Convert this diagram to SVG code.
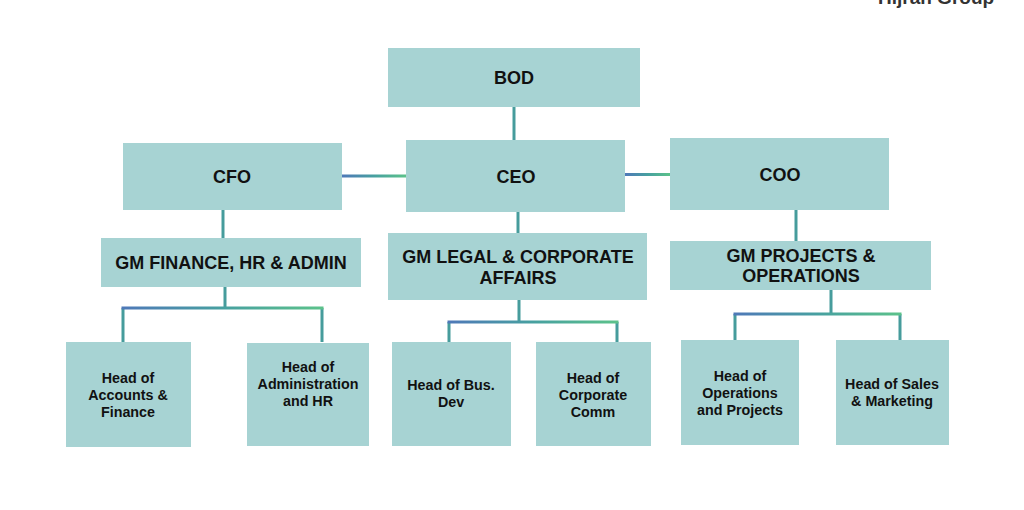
<svg xmlns="http://www.w3.org/2000/svg" width="1024" height="510" viewBox="0 0 1024 510">
<style>
.box{fill:#a7d3d3;}
.t1{font-family:"Liberation Sans",Arial,sans-serif;font-weight:bold;font-size:18px;fill:#111;text-anchor:middle;}
.t2{font-family:"Liberation Sans",Arial,sans-serif;font-weight:bold;font-size:14.3px;fill:#111;text-anchor:middle;}
.v{stroke:#469c9c;stroke-width:3;fill:none;}
.h{fill:url(#grad);}
</style>
<defs>
<linearGradient id="grad" x1="0" y1="0" x2="1" y2="0">
<stop offset="0" stop-color="#4f78b8"/>
<stop offset="0.5" stop-color="#47a0a0"/>
<stop offset="1" stop-color="#5cc28a"/>
</linearGradient>
</defs>
<rect width="1024" height="510" fill="#ffffff"/>
<text x="878" y="4" font-family="Liberation Sans,Arial,sans-serif" font-weight="bold" font-size="19" fill="#333">Hijran Group</text>

<g id="connectors">
<path class="v" d="M514,107 V140"/>
<rect class="h" x="342" y="174.5" width="64" height="3"/>
<rect class="h" x="625" y="173" width="45" height="3"/>
<path class="v" d="M223,210 V238"/>
<path class="v" d="M518,212 V233"/>
<path class="v" d="M796,210 V241"/>
<path class="v" d="M225,287 V308 M123,308 V342 M322,308 V342"/>
<rect class="h" x="121.5" y="306.5" width="202" height="3"/>
<path class="v" d="M519,300 V322 M449,322 V342 M617,322 V342"/>
<rect class="h" x="447.5" y="320.5" width="171" height="3"/>
<path class="v" d="M831,290 V314 M735,314 V341 M900,314 V341"/>
<rect class="h" x="733.5" y="312.5" width="168" height="3"/>
</g>

<g id="bod"><rect class="box" x="388" y="48" width="252" height="59"/><text class="t1" x="514" y="84">BOD</text></g>
<g id="cfo"><rect class="box" x="123" y="143" width="219" height="67"/><text class="t1" x="232" y="183">CFO</text></g>
<g id="ceo"><rect class="box" x="406" y="140" width="219" height="72"/><text class="t1" x="516" y="183">CEO</text></g>
<g id="coo"><rect class="box" x="670" y="138" width="219" height="72"/><text class="t1" x="780" y="181">COO</text></g>

<g id="gm-finance"><rect class="box" x="101" y="238" width="260" height="49"/><text class="t1" x="231" y="269">GM FINANCE, HR &amp; ADMIN</text></g>
<g id="gm-legal"><rect class="box" x="388" y="233" width="259" height="67"/><text class="t1" x="518" y="263">GM LEGAL &amp; CORPORATE</text><text class="t1" x="518" y="284">AFFAIRS</text></g>
<g id="gm-projects"><rect class="box" x="670" y="241" width="261" height="49"/><text class="t1" x="801" y="262">GM PROJECTS &amp;</text><text class="t1" x="801" y="282">OPERATIONS</text></g>

<g id="head-accounts"><rect class="box" x="66" y="342" width="125" height="105"/><text class="t2" x="128" y="383">Head of</text><text class="t2" x="128" y="400">Accounts &amp;</text><text class="t2" x="128" y="417">Finance</text></g>
<g id="head-admin"><rect class="box" x="247" y="343" width="122" height="103"/><text class="t2" x="308" y="372">Head of</text><text class="t2" x="308" y="389">Administration</text><text class="t2" x="308" y="406">and HR</text></g>
<g id="head-busdev"><rect class="box" x="392" y="342" width="119" height="104"/><text class="t2" x="451" y="390">Head of Bus.</text><text class="t2" x="451" y="407">Dev</text></g>
<g id="head-corpcomm"><rect class="box" x="536" y="342" width="115" height="104"/><text class="t2" x="593" y="383">Head of</text><text class="t2" x="593" y="400">Corporate</text><text class="t2" x="593" y="417">Comm</text></g>
<g id="head-operations"><rect class="box" x="681" y="340" width="118" height="105"/><text class="t2" x="740" y="381">Head of</text><text class="t2" x="740" y="398">Operations</text><text class="t2" x="740" y="415">and Projects</text></g>
<g id="head-sales"><rect class="box" x="836" y="340" width="113" height="105"/><text class="t2" x="892" y="389">Head of Sales</text><text class="t2" x="892" y="406">&amp; Marketing</text></g>
</svg>
